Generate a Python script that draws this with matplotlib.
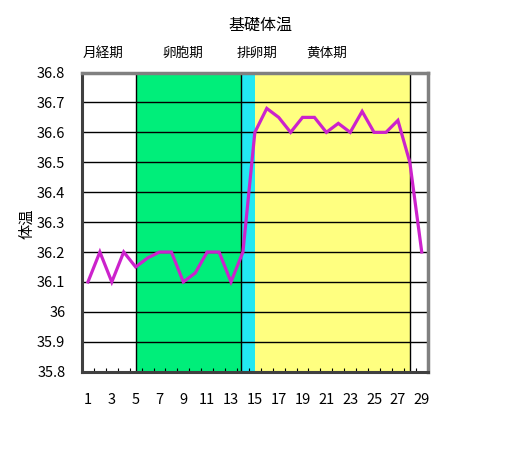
import matplotlib
matplotlib.use("Agg")
import matplotlib.pyplot as plt
from matplotlib.ticker import FixedLocator, FuncFormatter

plt.rcParams['font.family'] = ['Noto Sans CJK JP', 'DejaVu Sans']

days = list(range(1, 30))
temps = [36.1, 36.2, 36.1, 36.2, 36.15, 36.18, 36.2, 36.2, 36.1, 36.13,
         36.2, 36.2, 36.1, 36.2, 36.6, 36.68, 36.65, 36.6, 36.65, 36.65,
         36.6, 36.63, 36.6, 36.67, 36.6, 36.6, 36.64, 36.5, 36.2]

title = "基礎体温"
ylabel = "体温"
phase_names = ["月経期", "卵胞期", "排卵期", "黄体期"]
# phase bands (start, end) in day units
band_starts = [5, 13.85, 15]
band_ends = [13.85, 15, 28]
band_colors = ["#00EE7A", "#22E8F2", "#FFFF80"]
divider_days = [5, 13.85, 28]
yticks = [35.8, 35.9, 36.0, 36.1, 36.2, 36.3, 36.4, 36.5, 36.6, 36.7, 36.8]
xtick_labels = list(range(1, 30, 2))

fig = plt.figure(figsize=(5.2, 4.7), dpi=100)
ax = fig.add_axes([82/520, 1 - 371.7/470, 345.7/520, (371.7 - 72.5)/470])

for s, e, c in zip(band_starts, band_ends, band_colors):
    ax.axvspan(s, e, color=c, zorder=0, lw=0)
for d in divider_days:
    ax.axvline(d, color='black', lw=1.0, zorder=1)
for y in yticks:
    ax.axhline(y, color='black', lw=1.0, zorder=1)

ax.plot(days, temps, color='#CC22CC', lw=2.3, zorder=3, solid_joinstyle='miter')

ax.set_xlim(0.5, 29.5)
ax.set_ylim(35.8, 36.8)
ax.yaxis.set_major_locator(FixedLocator(yticks))
ax.yaxis.set_major_formatter(FuncFormatter(lambda v, p: f"{v:g}"))
ax.xaxis.set_major_locator(FixedLocator(xtick_labels))
ax.set_xticklabels([str(v) for v in xtick_labels])
ax.xaxis.set_minor_locator(FixedLocator([d + 0.5 for d in range(0, 30)]))
ax.tick_params(axis='y', length=0, pad=12, labelsize=10.5)
ax.tick_params(axis='x', which='major', length=0, pad=15, labelsize=10.5)
ax.tick_params(axis='x', which='minor', length=3, direction='in', color='black', width=0.8)

for side in ['top', 'right']:
    ax.spines[side].set_color('#808080')
    ax.spines[side].set_linewidth(2.5)
ax.spines['left'].set_color('#404040')
ax.spines['left'].set_linewidth(2.2)
ax.spines['bottom'].set_color('#404040')
ax.spines['bottom'].set_linewidth(2.2)

fig.text(260/520, 1 - 25/470, title, ha='center', va='center', fontsize=11.5)
for name, xp in zip(phase_names, [103, 183, 257, 327]):
    fig.text(xp/520, 1 - 53/470, name, ha='center', va='center', fontsize=9.8)
fig.text(27/520, 1 - 224/470, ylabel, ha='center', va='center', rotation=90, fontsize=11)

fig.savefig("out.png", dpi=100, facecolor='white')
